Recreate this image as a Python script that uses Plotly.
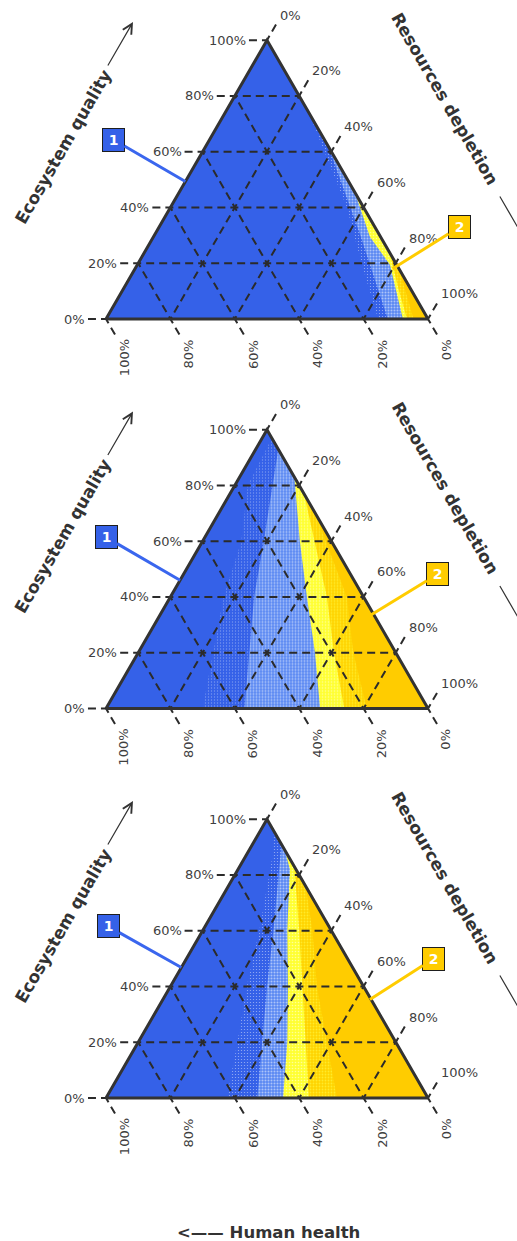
import math
import plotly.graph_objects as go

# ---------------------------------------------------------------------------
# Data
# ---------------------------------------------------------------------------
TICK_VALUES = [0, 20, 40, 60, 80, 100]
TICK_LABELS = ["0%", "20%", "40%", "60%", "80%", "100%"]

TITLE_EQ = "Ecosystem quality"
TITLE_RD = "Resources depletion"
TITLE_HH = "Human health"
CALLOUT_TEXT = ["1", "2"]

# Region boundaries, as (ecosystem quality, resources depletion) fractions,
# running from the right edge of the triangle down to its base.
P1_SPARSE = [(0.74, 0.26), (0.40, 0.548), (0.194, 0.698), (0.0, 0.845)]
P1_DENSE = [(0.62, 0.38), (0.30, 0.64), (0.0, 0.875)]
P1_YELLOW = [(0.455, 0.545), (0.295, 0.672), (0.194, 0.785), (0.0, 0.922)]
P1_MID = [(0.24, 0.76), (0.10, 0.86), (0.0, 0.935)]
P1_GOLD = [(0.18, 0.82), (0.0, 0.955)]

P2_SPARSE = [(0.97, 0.03), (0.80, 0.04), (0.60, 0.12), (0.40, 0.165), (0.0, 0.30)]
P2_DENSE = [(0.93, 0.07), (0.60, 0.19), (0.40, 0.26), (0.0, 0.43)]
P2_YELLOW = [(0.83, 0.17), (0.60, 0.302), (0.40, 0.424), (0.20, 0.549), (0.0, 0.665)]
P2_MID = [(0.77, 0.23), (0.40, 0.486), (0.20, 0.608), (0.0, 0.74)]
P2_GOLD = [(0.70, 0.30), (0.40, 0.548), (0.20, 0.668), (0.0, 0.81)]

P3_SPARSE = [(0.97, 0.03), (0.88, 0.079), (0.60, 0.176), (0.40, 0.237), (0.20, 0.308), (0.0, 0.375)]
P3_DENSE = [(0.91, 0.09), (0.60, 0.22), (0.40, 0.30), (0.0, 0.47)]
P3_YELLOW = [(0.89, 0.11), (0.82, 0.161), (0.60, 0.263), (0.40, 0.365), (0.20, 0.463), (0.0, 0.55)]
P3_MID = [(0.83, 0.17), (0.60, 0.30), (0.40, 0.41), (0.20, 0.52), (0.0, 0.63)]
P3_GOLD = [(0.76, 0.24), (0.60, 0.341), (0.40, 0.455), (0.20, 0.586), (0.0, 0.717)]

# Callout anchor points: region 1 on the left edge (ecosystem quality),
# region 2 as (ecosystem quality, resources depletion)
CALLOUT1_EQ = [0.493, 0.46, 0.468]
CALLOUT2_PT = [(0.18, 0.80), (0.335, 0.655), (0.353, 0.643)]

PANELS = [
    [P1_SPARSE, P1_DENSE, P1_YELLOW, P1_MID, P1_GOLD],
    [P2_SPARSE, P2_DENSE, P2_YELLOW, P2_MID, P2_GOLD],
    [P3_SPARSE, P3_DENSE, P3_YELLOW, P3_MID, P3_GOLD],
]

# ---------------------------------------------------------------------------
# Styling
# ---------------------------------------------------------------------------
W, H = 517, 1241
UNIT = 322.0                  # pixels per triangle side
LEFT_PX = 106.0               # left vertex from the page's left edge
BAND_PX = 389.5               # vertical space for each triangle
BASE_PX = 319.0               # base line from the top of each band
SQ3 = math.sqrt(3.0)
TICK_LEN = 0.056

BLUE = "#3561E8"
GOLD = "#FFCC00"
GRID = "#2b2b2b"
EDGE = "#333333"
TXT = "#3f3f3f"
TITLE_COLOR = "#333333"
FONT = "DejaVu Sans"

LAYER_STYLE = [
    dict(fillcolor=BLUE, fillpattern=dict(shape=".", bgcolor=BLUE, fgcolor="white",
                                          size=3, solidity=0.13)),
    dict(fillcolor="#5A88F2", fillpattern=dict(shape=".", bgcolor="#5A88F2", fgcolor="white",
                                               size=3, solidity=0.36)),
    dict(fillcolor="#FFFF33", fillpattern=dict(shape=".", bgcolor="#FFFF33", fgcolor="white",
                                               size=3, solidity=0.22)),
    dict(fillcolor="#FFDD10", fillpattern=dict(shape=".", bgcolor="#FFD400", fgcolor="#FFFF55",
                                               size=3, solidity=0.28)),
    dict(fillcolor=GOLD),
]


def txy(eq, rd):
    """Ternary (ecosystem quality, resources depletion) -> plane coordinates."""
    return rd + eq / 2.0, eq * SQ3 / 2.0


def px_to_unit(px_x, px_y):
    """Page pixel offsets inside the first band -> plane coordinates."""
    return (px_x - LEFT_PX) / UNIT, (BASE_PX - px_y) / UNIT


fig = go.Figure()
annotations = []


def axis_ids(k):
    return ("x" if k == 0 else f"x{k + 1}"), ("y" if k == 0 else f"y{k + 1}")


for k, bounds in enumerate(PANELS):
    xa, ya = axis_ids(k)
    common = dict(xaxis=xa, yaxis=ya, hoverinfo="skip", showlegend=False)

    # whole triangle in the base colour
    tri = [(0, 0), (0, 1), (1, 0), (0, 0)]
    fig.add_trace(go.Scatter(x=[txy(*p)[0] for p in tri], y=[txy(*p)[1] for p in tri],
                             mode="lines", fill="toself", fillcolor=BLUE,
                             line=dict(width=0), **common))

    # regions to the right of each boundary, stacked
    for bnd, style in zip(bounds, LAYER_STYLE):
        pts = list(bnd) + [(0.0, 1.0), bnd[0]]
        fig.add_trace(go.Scatter(x=[txy(*p)[0] for p in pts], y=[txy(*p)[1] for p in pts],
                                 mode="lines", fill="toself", line=dict(width=0),
                                 **style, **common))

    # grid lines with their outward ticks
    fam_x = {"eq": [], "rd": [], "hh": []}
    fam_y = {"eq": [], "rd": [], "hh": []}
    for v, lab in zip(TICK_VALUES, TICK_LABELS):
        f = v / 100.0
        # ecosystem quality: horizontal, tick to the left
        ax0, ay0 = txy(f, 0.0)
        ax1, ay1 = txy(f, 1.0 - f)
        ox, oy = ax0 - TICK_LEN, ay0
        xs, ys = [ox, ax0], [oy, ay0]
        if 0 < v < 100:
            xs.append(ax1); ys.append(ay1)
        fam_x["eq"] += xs + [None]; fam_y["eq"] += ys + [None]
        annotations.append(dict(x=ox, y=oy, xref=xa, yref=ya, text=lab, showarrow=False,
                                xanchor="right", yanchor="middle", xshift=-1,
                                font=dict(family=FONT, size=13, color=TXT)))
        # resources depletion: parallel to left edge, tick up-right
        bx0, by0 = txy(1.0 - f, f)
        bx1, by1 = txy(0.0, f)
        ox, oy = bx0 + TICK_LEN * 0.5, by0 + TICK_LEN * SQ3 / 2
        xs, ys = [ox, bx0], [oy, by0]
        if 0 < v < 100:
            xs.append(bx1); ys.append(by1)
        fam_x["rd"] += xs + [None]; fam_y["rd"] += ys + [None]
        annotations.append(dict(x=ox, y=oy, xref=xa, yref=ya, text=lab, showarrow=False,
                                xanchor="left", yanchor="bottom", xshift=2, yshift=0,
                                font=dict(family=FONT, size=13, color=TXT)))
        # human health: parallel to right edge, tick down-right
        cx0, cy0 = txy(0.0, 1.0 - f)
        cx1, cy1 = txy(1.0 - f, 0.0)
        ox, oy = cx0 + TICK_LEN * 0.5, cy0 - TICK_LEN * SQ3 / 2
        xs, ys = [ox, cx0], [oy, cy0]
        if 0 < v < 100:
            xs.append(cx1); ys.append(cy1)
        fam_x["hh"] += xs + [None]; fam_y["hh"] += ys + [None]
        annotations.append(dict(x=ox, y=oy, xref=xa, yref=ya, text=lab, showarrow=False,
                                textangle=-90, xanchor="center", yanchor="top",
                                xshift=9, yshift=-3,
                                font=dict(family=FONT, size=13, color=TXT)))
    for fam in ("eq", "rd", "hh"):
        fig.add_trace(go.Scatter(x=fam_x[fam], y=fam_y[fam], mode="lines",
                                 line=dict(color=GRID, width=2, dash="8px,5px"), **common))

    # triangle outline
    fig.add_trace(go.Scatter(x=[txy(*p)[0] for p in tri], y=[txy(*p)[1] for p in tri],
                             mode="lines", line=dict(color=EDGE, width=3), **common))

    # axis titles
    tx, ty = px_to_unit(63, 147)
    annotations.append(dict(x=tx, y=ty, xref=xa, yref=ya, showarrow=False,
                            text=f"<b>{TITLE_EQ}</b>", textangle=-60,
                            xanchor="center", yanchor="middle",
                            font=dict(family=FONT, size=17, color=TITLE_COLOR)))
    tip_x, tip_y = px_to_unit(133, 22)
    annotations.append(dict(x=tip_x, y=tip_y, xref=xa, yref=ya, text="",
                            showarrow=True, ax=-26, ay=45, arrowhead=5, arrowsize=1.6,
                            arrowwidth=1.2, arrowcolor=TITLE_COLOR, standoff=0))
    tx, ty = px_to_unit(445, 99)
    annotations.append(dict(x=tx, y=ty, xref=xa, yref=ya, showarrow=False,
                            text=f"<b>{TITLE_RD}</b>", textangle=60,
                            xanchor="center", yanchor="middle",
                            font=dict(family=FONT, size=17, color=TITLE_COLOR)))
    tip_x, tip_y = px_to_unit(532, 252)
    tail_x, tail_y = px_to_unit(499, 195)
    annotations.append(dict(x=tip_x, y=tip_y, xref=xa, yref=ya, text="",
                            showarrow=True, ax=tail_x, ay=tail_y, axref=xa, ayref=ya,
                            arrowhead=5, arrowsize=1.6, arrowwidth=1.2,
                            arrowcolor=TITLE_COLOR, standoff=0))

    # callouts
    box1 = [(-72, -42), (-74, -43), (-73, -41)][k]
    box2 = [(67, -42), (67, -41), (64, -41)][k]
    tx, ty = txy(CALLOUT1_EQ[k], 0.0)
    annotations.append(dict(x=tx, y=ty, xref=xa, yref=ya, ax=box1[0], ay=box1[1],
                            text=f"<b>{CALLOUT_TEXT[0]}</b>", showarrow=True, arrowhead=0,
                            arrowwidth=3, arrowcolor="#3A66EE", standoff=0,
                            bgcolor=BLUE, bordercolor="#1e1e1e", borderwidth=1, borderpad=1,
                            width=19, height=20,
                            font=dict(family=FONT, size=14, color="white")))
    tx, ty = txy(*CALLOUT2_PT[k])
    annotations.append(dict(x=tx, y=ty, xref=xa, yref=ya, ax=box2[0], ay=box2[1],
                            text=f"<b>{CALLOUT_TEXT[1]}</b>", showarrow=True, arrowhead=0,
                            arrowwidth=3, arrowcolor=GOLD, standoff=0,
                            bgcolor=GOLD, bordercolor="#1e1e1e", borderwidth=1, borderpad=1,
                            width=19, height=20,
                            font=dict(family=FONT, size=14, color="white")))

annotations.append(dict(x=268 / W, y=(H - 1232) / H, xref="paper", yref="paper",
                        showarrow=False, text=f"<b>&lt;—— {TITLE_HH}</b>",
                        xanchor="center", yanchor="middle",
                        font=dict(family=FONT, size=16.5, color=TITLE_COLOR)))

layout = dict(width=W, height=H, margin=dict(l=0, r=0, t=0, b=0, pad=0),
              paper_bgcolor="white", plot_bgcolor="white", showlegend=False,
              annotations=annotations)
xr = [-LEFT_PX / UNIT, (W - LEFT_PX) / UNIT]
yr = [-(BAND_PX - BASE_PX) / UNIT, BASE_PX / UNIT]
for k in range(3):
    xname = "xaxis" if k == 0 else f"xaxis{k + 1}"
    yname = "yaxis" if k == 0 else f"yaxis{k + 1}"
    top = 1 - k * BAND_PX / H
    bot = 1 - (k + 1) * BAND_PX / H
    layout[xname] = dict(range=xr, domain=[0, 1], visible=False, fixedrange=True,
                         anchor="y" if k == 0 else f"y{k + 1}")
    layout[yname] = dict(range=yr, domain=[bot, top], visible=False, fixedrange=True,
                         anchor="x" if k == 0 else f"x{k + 1}")

fig.update_layout(**layout)
fig.write_html("out.html", config={"displayModeBar": False})
